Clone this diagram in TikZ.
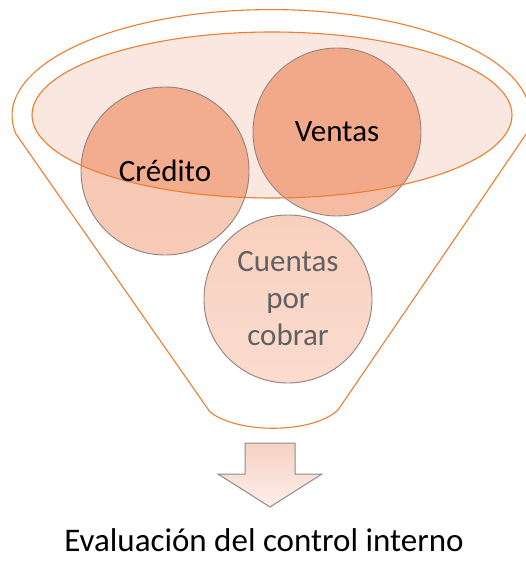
\documentclass[tikz,border=0pt]{standalone}
\usepackage{fontspec}
\setmainfont{Carlito}
\definecolor{rimorange}{HTML}{ED7D31}
\definecolor{topfill}{HTML}{FAE8E0}
\definecolor{credout}{HTML}{F7CBB7}
\definecolor{credin}{HTML}{F2AD8F}
\definecolor{ventout}{HTML}{F5BCA3}
\definecolor{ventin}{HTML}{F2A98A}
\definecolor{cuentfill}{HTML}{F9D3C3}
\definecolor{bubbleline}{HTML}{948580}
\definecolor{arrowtop}{HTML}{F7D2C4}
\definecolor{arrowbot}{HTML}{FCEEE9}
\begin{document}
\begin{tikzpicture}[x=1pt,y=-1pt,
  rim/.style={draw=rimorange,line width=1.1pt},
  ring/.style={draw=bubbleline,line width=0.9pt},
  bubble/.style={circle,minimum size=168pt,inner sep=0pt,align=center,
    font=\fontsize{31}{37}\selectfont},
  arrowbox/.style={draw=gray!90,line width=1pt,top color=arrowtop,bottom color=arrowbot}]

\useasboundingbox (0,0) rectangle (526,561);

\draw[rim] (16,134) arc[start angle=170,end angle=370,x radius=259,y radius=106]
  -- (338,410) .. controls (312,434) and (238,434) .. (210,412) -- cycle;

\coordinate (top) at (272,115);
\coordinate (c1) at (165,171);
\coordinate (c2) at (337,132);
\coordinate (c3) at (288,299);

\fill[topfill] (top) ellipse[x radius=240,y radius=83];

\fill[top color=credout!90!ventin,bottom color=credout] (c1) circle[radius=84];
\fill[ventout] (c2) circle[radius=84];
\fill[top color=cuentfill!92!ventin,bottom color=cuentfill!80!white] (c3) circle[radius=84];

\begin{scope}
  \clip (top) ellipse[x radius=240,y radius=83];
  \fill[credin] (c1) circle[radius=84];
  \fill[ventin] (c2) circle[radius=84];
\end{scope}

\foreach \c in {c1,c2,c3}
  \draw[ring] (\c) circle[radius=84];

\draw[rim] (top) ellipse[x radius=240,y radius=83];

\node[bubble] (credito) at (c1) {Crédito};
\node[bubble] (ventas) at (c2) {Ventas};
\node[bubble,text=black!62] (cuentas) at (c3) {Cuentas\\por\\cobrar};

\draw[arrowbox] (245,443) -- (295,443) -- (295,474) -- (322,474) -- (270,507)
  -- (218,474) -- (245,474) -- cycle;

\node[inner sep=0pt,font=\fontsize{33}{38}\selectfont] (evaluacion) at (264,540) {Evaluación del control interno};

\end{tikzpicture}
\end{document}
